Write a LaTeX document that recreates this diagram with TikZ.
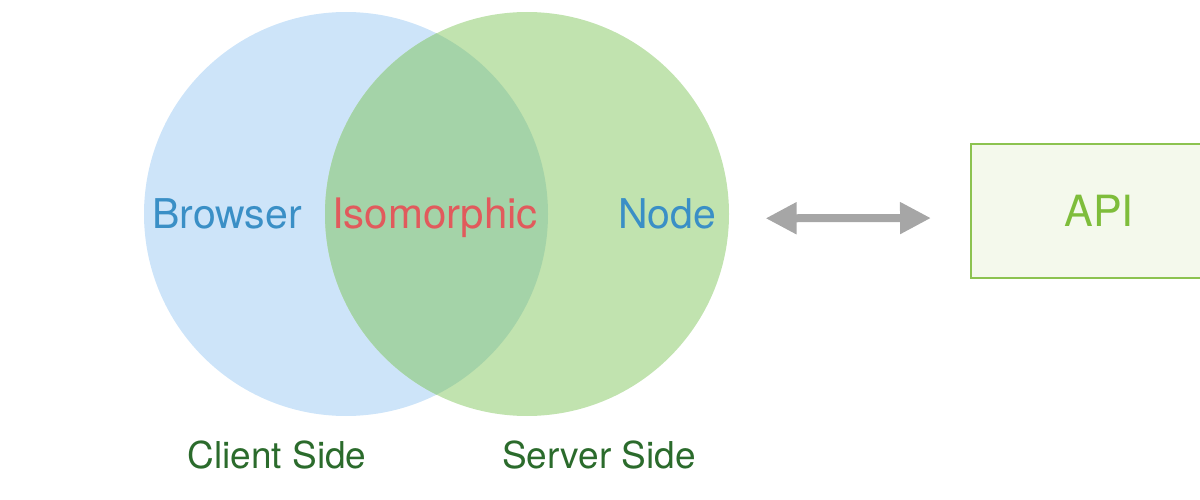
\documentclass[tikz,border=0pt]{standalone}
\usepackage{fontspec}
\setmainfont{TeX Gyre Heros}
\usetikzlibrary{arrows.meta}

\definecolor{clientblue}{HTML}{CDE4F9}
\definecolor{servergreen}{HTML}{C1E3AF}
\definecolor{overlapgreen}{HTML}{A4D3A8}
\definecolor{textblue}{HTML}{3A8FC6}
\definecolor{textred}{HTML}{E15A5C}
\definecolor{sidegreen}{HTML}{2B6B2C}
\definecolor{apigreen}{HTML}{7EBD3B}
\definecolor{apifill}{HTML}{F4F9EC}
\definecolor{apiborder}{HTML}{8CC350}
\definecolor{arrowgray}{HTML}{A6A6A6}

\tikzset{
  side/.style={shape=circle, minimum size=404pt, inner sep=0pt},
  biglabel/.style={anchor=base, font=\fontsize{41pt}{41pt}\selectfont},
  sidelabel/.style={anchor=base, text=sidegreen, font=\fontsize{37pt}{37pt}\selectfont},
  twoway/.style={{Triangle[width=30pt,length=31pt]}-{Triangle[width=30pt,length=31pt]}, line width=8pt, draw=arrowgray}
}

\begin{document}
\begin{tikzpicture}[x=1pt, y=-1pt]
\useasboundingbox (0,0) rectangle (1200,500);

\node [side, fill=clientblue] (Client) at (346,214) {};
\node [side, fill=servergreen] (Server) at (527,214) {};
\begin{scope}
\clip (346,214) circle (202pt);
\fill [overlapgreen] (527,214) circle (202pt);
\end{scope}

\node [biglabel, text=textblue] (Browser) at (227,228) {Browser};
\node [biglabel, text=textred, font=\fontsize{42pt}{42pt}\selectfont] (Iso) at (435,228) {Isomorphic};
\node [biglabel, text=textblue] (Node) at (667,228) {Node};

\node [shape=rectangle, draw=apiborder, line width=2pt, fill=apifill,
       minimum width=256pt, minimum height=134pt, text=apigreen,
       font=\fontsize{43pt}{43pt}\selectfont] (API) at (1099,211) {API};

\draw [twoway, shorten <=46pt, shorten >=39pt] ([yshift=-5pt]Node.east) -- ([yshift=-7pt]API.west);

\node [sidelabel] (ClientSide) at (277,468) {Client Side};
\node [sidelabel] (ServerSide) at (599,468) {Server Side};
\end{tikzpicture}
\end{document}
